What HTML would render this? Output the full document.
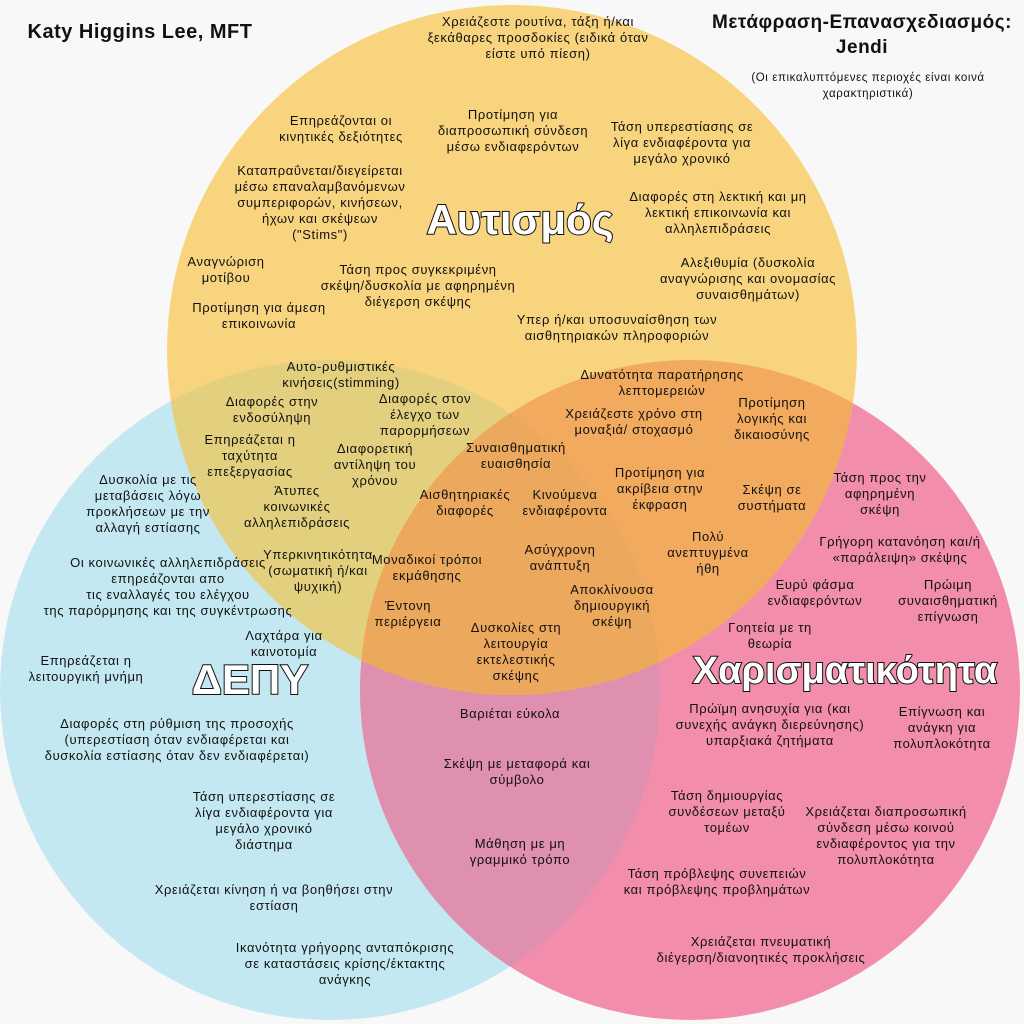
<!DOCTYPE html>
<html><head><meta charset="utf-8"><style>
body{margin:0;width:1024px;height:1024px;background:#f8f8f8;position:relative;overflow:hidden;font-family:"Liberation Sans","DejaVu Sans",sans-serif;color:#111}
.t{position:absolute;transform:translateX(-50%);text-align:center;font-size:13px;letter-spacing:0.6px;line-height:16px;white-space:nowrap}
svg{position:absolute;left:0;top:0}
.big{position:absolute;transform:translateX(-50%);font-weight:bold;color:#fff;-webkit-text-stroke:2px #111;white-space:nowrap;paint-order:stroke fill}
</style></head><body>
<svg width="1024" height="1024">
<defs>
<clipPath id="cy"><circle cx="512" cy="350" r="345"/></clipPath>
<clipPath id="cb"><circle cx="330" cy="690" r="330"/></clipPath>
<clipPath id="cp"><circle cx="690" cy="690" r="330"/></clipPath>
</defs>
<circle cx="330" cy="690" r="330" fill="#c4e8f2"/>
<circle cx="690" cy="690" r="330" fill="#f28eac"/>
<circle cx="512" cy="350" r="345" fill="#f8d47e"/>
<g clip-path="url(#cb)"><circle cx="690" cy="690" r="330" fill="#de90ae"/><circle cx="512" cy="350" r="345" fill="#e3d07e"/></g>
<g clip-path="url(#cp)"><circle cx="512" cy="350" r="345" fill="#f2aa5e"/></g>
<g clip-path="url(#cp)"><g clip-path="url(#cb)"><circle cx="512" cy="350" r="345" fill="#eca85c"/></g></g>
</svg>
<div class="t" style="left:140px;top:24px;font-size:20px;font-weight:bold;letter-spacing:0.5px">Katy Higgins Lee, MFT</div>
<div class="t" style="left:862px;top:10px;font-size:19px;font-weight:bold;line-height:25px;letter-spacing:0.5px">Μετάφραση-Επανασχεδιασμός:<br>Jendi</div>
<div class="t" style="left:868px;top:70px;font-size:11.5px">(Οι επικαλυπτόμενες περιοχές είναι κοινά<br>χαρακτηριστικά)</div>

<div class="big" style="left:520px;top:196px;font-size:42px">Αυτισμός</div>
<div class="big" style="left:250px;top:656px;font-size:42px">ΔΕΠΥ</div>
<div class="big" style="left:845px;top:650px;font-size:38px">Χαρισματικότητα</div>

<div class="t" style="left:538px;top:14px">Χρειάζεστε ρουτίνα, τάξη ή/και<br>ξεκάθαρες προσδοκίες (ειδικά όταν<br>είστε υπό πίεση)</div>
<div class="t" style="left:341px;top:113px">Επηρεάζονται οι<br>κινητικές δεξιότητες</div>
<div class="t" style="left:513px;top:107px">Προτίμηση για<br>διαπροσωπική σύνδεση<br>μέσω ενδιαφερόντων</div>
<div class="t" style="left:682px;top:119px">Τάση υπερεστίασης σε<br>λίγα ενδιαφέροντα για<br>μεγάλο χρονικό</div>
<div class="t" style="left:320px;top:163px">Καταπραΰνεται/διεγείρεται<br>μέσω επαναλαμβανόμενων<br>συμπεριφορών, κινήσεων,<br>ήχων και σκέψεων<br>("Stims")</div>
<div class="t" style="left:718px;top:189px">Διαφορές στη λεκτική και μη<br>λεκτική επικοινωνία και<br>αλληλεπιδράσεις</div>
<div class="t" style="left:226px;top:254px">Αναγνώριση<br>μοτίβου</div>
<div class="t" style="left:418px;top:262px">Τάση προς συγκεκριμένη<br>σκέψη/δυσκολία με αφηρημένη<br>διέγερση σκέψης</div>
<div class="t" style="left:748px;top:255px">Αλεξιθυμία (δυσκολία<br>αναγνώρισης και ονομασίας<br>συναισθημάτων)</div>
<div class="t" style="left:259px;top:300px">Προτίμηση για άμεση<br>επικοινωνία</div>
<div class="t" style="left:617px;top:312px">Υπερ ή/και υποσυναίσθηση των<br>αισθητηριακών πληροφοριών</div>

<div class="t" style="left:341px;top:359px">Αυτο-ρυθμιστικές<br>κινήσεις(stimming)</div>
<div class="t" style="left:272px;top:394px">Διαφορές στην<br>ενδοσύληψη</div>
<div class="t" style="left:425px;top:391px">Διαφορές στον<br>έλεγχο των<br>παρορμήσεων</div>
<div class="t" style="left:250px;top:432px">Επηρεάζεται η<br>ταχύτητα<br>επεξεργασίας</div>
<div class="t" style="left:375px;top:441px">Διαφορετική<br>αντίληψη του<br>χρόνου</div>
<div class="t" style="left:297px;top:483px">Άτυπες<br>κοινωνικές<br>αλληλεπιδράσεις</div>
<div class="t" style="left:318px;top:547px">Υπερκινητικότητα<br>(σωματική ή/και<br>ψυχική)</div>

<div class="t" style="left:662px;top:367px">Δυνατότητα παρατήρησης<br>λεπτομερειών</div>
<div class="t" style="left:634px;top:406px">Χρειάζεστε χρόνο στη<br>μοναξιά/ στοχασμό</div>
<div class="t" style="left:772px;top:395px">Προτίμηση<br>λογικής και<br>δικαιοσύνης</div>
<div class="t" style="left:516px;top:440px">Συναισθηματική<br>ευαισθησία</div>
<div class="t" style="left:660px;top:465px">Προτίμηση για<br>ακρίβεια στην<br>έκφραση</div>
<div class="t" style="left:772px;top:482px">Σκέψη σε<br>συστήματα</div>
<div class="t" style="left:465px;top:487px">Αισθητηριακές<br>διαφορές</div>
<div class="t" style="left:565px;top:487px">Κινούμενα<br>ενδιαφέροντα</div>
<div class="t" style="left:708px;top:529px">Πολύ<br>ανεπτυγμένα<br>ήθη</div>
<div class="t" style="left:560px;top:542px">Ασύγχρονη<br>ανάπτυξη</div>
<div class="t" style="left:427px;top:552px">Μοναδικοί τρόποι<br>εκμάθησης</div>
<div class="t" style="left:612px;top:582px">Αποκλίνουσα<br>δημιουργική<br>σκέψη</div>
<div class="t" style="left:408px;top:598px">Έντονη<br>περιέργεια</div>
<div class="t" style="left:516px;top:620px">Δυσκολίες στη<br>λειτουργία<br>εκτελεστικής<br>σκέψης</div>

<div class="t" style="left:148px;top:472px">Δυσκολία με τις<br>μεταβάσεις λόγω<br>προκλήσεων με την<br>αλλαγή εστίασης</div>
<div class="t" style="left:168px;top:555px">Οι κοινωνικές αλληλεπιδράσεις<br>επηρεάζονται απο<br>τις εναλλαγές του ελέγχου<br>της παρόρμησης και της συγκέντρωσης</div>
<div class="t" style="left:284px;top:628px">Λαχτάρα για<br>καινοτομία</div>
<div class="t" style="left:86px;top:653px">Επηρεάζεται η<br>λειτουργική μνήμη</div>
<div class="t" style="left:177px;top:716px">Διαφορές στη ρύθμιση της προσοχής<br>(υπερεστίαση όταν ενδιαφέρεται και<br>δυσκολία εστίασης όταν δεν ενδιαφέρεται)</div>
<div class="t" style="left:264px;top:789px">Τάση υπερεστίασης σε<br>λίγα ενδιαφέροντα για<br>μεγάλο χρονικό<br>διάστημα</div>
<div class="t" style="left:274px;top:882px">Χρειάζεται κίνηση ή να βοηθήσει στην<br>εστίαση</div>
<div class="t" style="left:345px;top:940px">Ικανότητα γρήγορης ανταπόκρισης<br>σε καταστάσεις κρίσης/έκτακτης<br>ανάγκης</div>

<div class="t" style="left:510px;top:706px">Βαριέται εύκολα</div>
<div class="t" style="left:517px;top:756px">Σκέψη με μεταφορά και<br>σύμβολο</div>
<div class="t" style="left:520px;top:836px">Μάθηση με μη<br>γραμμικό τρόπο</div>

<div class="t" style="left:880px;top:470px">Τάση προς την<br>αφηρημένη<br>σκέψη</div>
<div class="t" style="left:900px;top:534px">Γρήγορη κατανόηση και/ή<br>«παράλειψη» σκέψης</div>
<div class="t" style="left:815px;top:577px">Ευρύ φάσμα<br>ενδιαφερόντων</div>
<div class="t" style="left:948px;top:577px">Πρώιμη<br>συναισθηματική<br>επίγνωση</div>
<div class="t" style="left:770px;top:620px">Γοητεία με τη<br>θεωρία</div>
<div class="t" style="left:770px;top:701px">Πρώϊμη ανησυχία για (και<br>συνεχής ανάγκη διερεύνησης)<br>υπαρξιακά ζητήματα</div>
<div class="t" style="left:942px;top:704px">Επίγνωση και<br>ανάγκη για<br>πολυπλοκότητα</div>
<div class="t" style="left:727px;top:788px">Τάση δημιουργίας<br>συνδέσεων μεταξύ<br>τομέων</div>
<div class="t" style="left:886px;top:804px">Χρειάζεται διαπροσωπική<br>σύνδεση μέσω κοινού<br>ενδιαφέροντος για την<br>πολυπλοκότητα</div>
<div class="t" style="left:717px;top:866px">Τάση πρόβλεψης συνεπειών<br>και πρόβλεψης προβλημάτων</div>
<div class="t" style="left:761px;top:934px">Χρειάζεται πνευματική<br>διέγερση/διανοητικές προκλήσεις</div>
</body></html>
